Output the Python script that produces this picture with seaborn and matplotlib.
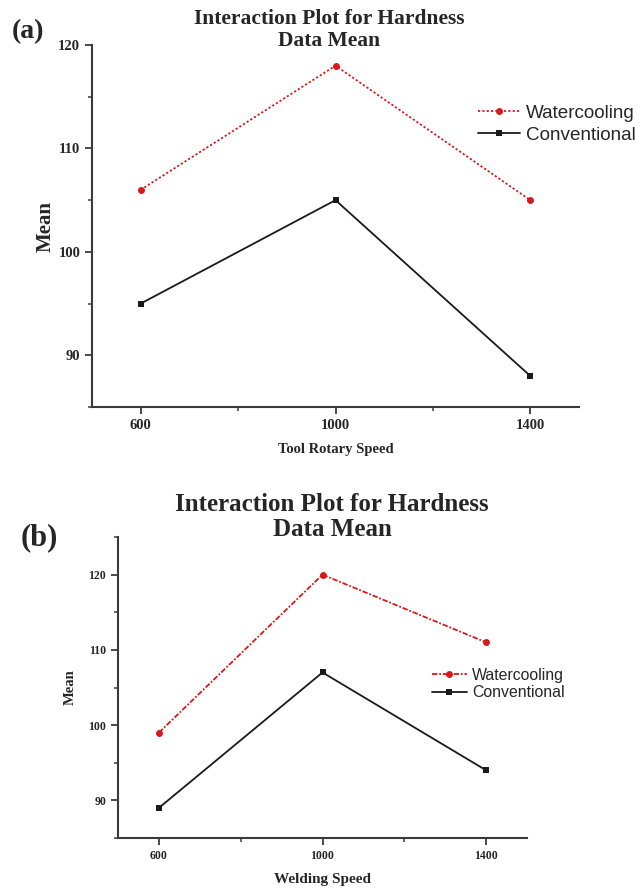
import matplotlib
matplotlib.use("Agg")
import matplotlib.pyplot as plt
from matplotlib.ticker import MultipleLocator
import seaborn as sns
import pandas as pd

# Hardness interaction-plot data
speeds = [600, 1000, 1400]
groups = ["Watercooling", "Conventional"]

# (a) tool rotary speed
water_a = [106, 118, 105]
conv_a = [95, 105, 88]

# (b) welding speed
water_b = [99, 120, 111]
conv_b = [89, 107, 94]

sns.set_style("white")
plt.rcParams["font.family"] = ["Liberation Serif", "DejaVu Serif"]

SERIF = "Liberation Serif"
SANS = "Liberation Sans"
AX_COL = "#3a3a3a"


def frame(water, conv):
    rows = []
    for s, w, c in zip(speeds, water, conv):
        rows.append({"speed": s, "mean": w, "group": groups[0]})
        rows.append({"speed": s, "mean": c, "group": groups[1]})
    return pd.DataFrame(rows)


def panel(ax, df, red_dash, ylim, xlabel, tick_fs, ylab_fs, xlab_fs,
          ylab_pad, legend_anchor, legend_fs, legend_gap):
    sns.lineplot(
        data=df, x="speed", y="mean", hue="group", style="group",
        hue_order=groups, style_order=groups,
        palette={groups[0]: "#d7191c", groups[1]: "#1a1a1a"},
        markers={groups[0]: "o", groups[1]: "s"},
        dashes={groups[0]: red_dash, groups[1]: ""},
        markersize=5, linewidth=1.3, markeredgewidth=0, ax=ax,
    )
    ax.set_xlim(500, 1500)
    ax.set_ylim(*ylim)
    ax.set_xticks(speeds)
    ax.xaxis.set_minor_locator(MultipleLocator(200))
    ax.yaxis.set_major_locator(MultipleLocator(10))
    ax.yaxis.set_minor_locator(MultipleLocator(5))
    for side in ("top", "right"):
        ax.spines[side].set_visible(False)
    for side in ("left", "bottom"):
        ax.spines[side].set_color(AX_COL)
        ax.spines[side].set_linewidth(1.5)
    ax.tick_params(which="major", direction="out", length=5, width=1.3,
                   color=AX_COL, left=True, bottom=True,
                   labelsize=tick_fs)
    ax.tick_params(which="minor", direction="out", length=3, width=1.1,
                   color=AX_COL, left=True, bottom=True)
    for lab in ax.get_xticklabels() + ax.get_yticklabels():
        lab.set_fontfamily(SERIF)
        lab.set_fontweight("bold")
    ax.set_xlabel(xlabel, fontfamily=SERIF, fontweight="bold",
                  fontsize=xlab_fs, labelpad=8)
    ax.set_ylabel("Mean", fontfamily=SERIF, fontweight="bold",
                  fontsize=ylab_fs, labelpad=ylab_pad)
    handles, labels = ax.get_legend_handles_labels()
    ax.legend(handles, labels, loc="center left", bbox_to_anchor=legend_anchor,
              bbox_transform=ax.figure.transFigure, frameon=False,
              prop={"family": SANS, "size": legend_fs},
              handlelength=2.2, handletextpad=0.32, labelspacing=legend_gap,
              borderaxespad=0, borderpad=0)


fig = plt.figure(figsize=(6.38, 8.88), dpi=100)
W, H = 638, 888

# panel (a) axes box in pixels: x 92..579, y 45..407
ax_a = fig.add_axes([92 / W, 1 - 407 / H, (579 - 92) / W, (407 - 45) / H])
panel(ax_a, frame(water_a, conv_a), (1.2, 1.2), (85, 120),
      "Tool Rotary Speed", 10.5, 15, 10.5, 2,
      (478 / W, 1 - 124 / H), 13.6, 0.25)

# panel (b) axes box in pixels: x 118..527, y 537..838
ax_b = fig.add_axes([118 / W, 1 - 838 / H, (527 - 118) / W, (838 - 537) / H])
panel(ax_b, frame(water_b, conv_b), (3, 1, 1, 1), (85, 125),
      "Welding Speed", 8.5, 10.5, 11, 8,
      (432 / W, 1 - 684 / H), 11.4, 0.15)

# titles and panel letters
fig.text(329 / W, 1 - 30 / H, "Interaction Plot for Hardness\nData Mean",
         ha="center", va="center", fontfamily=SERIF, fontweight="bold",
         fontsize=15.5, linespacing=1.13)
fig.text(332 / W, 1 - 517 / H, "Interaction Plot for Hardness\nData Mean",
         ha="center", va="center", fontfamily=SERIF, fontweight="bold",
         fontsize=18, linespacing=1.12)
fig.text(12 / W, 1 - 32 / H, "(a)", ha="left", va="center",
         fontfamily=SERIF, fontweight="bold", fontsize=20)
fig.text(21 / W, 1 - 538 / H, "(b)", ha="left", va="center",
         fontfamily=SERIF, fontweight="bold", fontsize=22)

fig.savefig("out.png", dpi=100, facecolor="white")
